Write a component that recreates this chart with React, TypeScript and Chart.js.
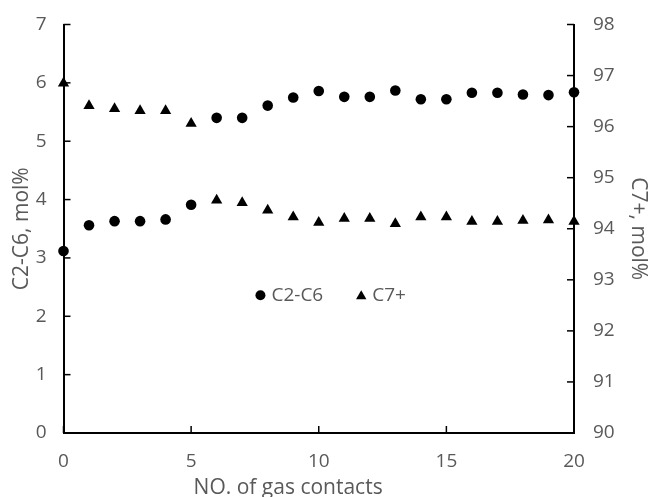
import React, { useEffect, useRef } from "react";
import { Chart, registerables } from "chart.js";

Chart.register(...registerables);

const contacts = [0, 1, 2, 3, 4, 5, 6, 7, 8, 9, 10, 11, 12, 13, 14, 15, 16, 17, 18, 19, 20];
const c2c6 = [3.12, 3.56, 3.63, 3.63, 3.66, 3.91, 5.4, 5.4, 5.61, 5.75, 5.86, 5.76, 5.76, 5.87, 5.72, 5.72, 5.83, 5.83, 5.8, 5.79, 5.84];
const c7plus = [96.85, 96.41, 96.35, 96.31, 96.31, 96.06, 94.56, 94.51, 94.36, 94.23, 94.12, 94.2, 94.2, 94.1, 94.23, 94.23, 94.14, 94.14, 94.16, 94.17, 94.14];
const seriesNames = ["C2-C6", "C7+"];
const xTitle = "NO. of gas contacts";
const yLeftTitle = "C2-C6, mol%";
const yRightTitle = "C7+, mol%";

const FONT = "'Open Sans', sans-serif";
const GREY = "#595959";

const innerTicks = {
  id: "innerTicks",
  beforeDatasetsDraw(chart: any) {
    const ctx = chart.ctx;
    const a = chart.chartArea;
    ctx.save();
    ctx.strokeStyle = "#000";
    ctx.lineWidth = 1.5;
    const len = 7;
    const sx = chart.scales.x;
    sx.ticks.forEach((_: any, i: number) => {
      const p = sx.getPixelForTick(i);
      ctx.beginPath();
      ctx.moveTo(p, a.bottom);
      ctx.lineTo(p, a.bottom - len);
      ctx.stroke();
    });
    const sy = chart.scales.y;
    sy.ticks.forEach((_: any, i: number) => {
      const p = sy.getPixelForTick(i);
      ctx.beginPath();
      ctx.moveTo(a.left, p);
      ctx.lineTo(a.left + len, p);
      ctx.stroke();
    });
    const sy1 = chart.scales.y1;
    sy1.ticks.forEach((_: any, i: number) => {
      const p = sy1.getPixelForTick(i);
      ctx.beginPath();
      ctx.moveTo(a.right, p);
      ctx.lineTo(a.right - len, p);
      ctx.stroke();
    });
    ctx.restore();
  },
};

const innerLegend = {
  id: "innerLegend",
  afterDraw(chart: any) {
    const ctx = chart.ctx;
    const a = chart.chartArea;
    const w = a.right - a.left;
    const h = a.bottom - a.top;
    let x = a.left + 0.376 * w;
    const y = a.top + 0.663 * h;
    ctx.save();
    ctx.font = "19px " + FONT;
    ctx.textBaseline = "middle";
    ctx.textAlign = "left";
    chart.data.datasets.forEach((ds: any) => {
      const style = ds.pointStyle;
      ctx.fillStyle = "#000";
      const r = style === "triangle" ? 6 : 5;
      ctx.beginPath();
      if (style === "triangle") {
        ctx.moveTo(x + 5, y - r + 1);
        ctx.lineTo(x + 5 + r * 0.866, y + r / 2 + 1);
        ctx.lineTo(x + 5 - r * 0.866, y + r / 2 + 1);
        ctx.closePath();
      } else {
        ctx.arc(x + 5, y, r, 0, Math.PI * 2);
      }
      ctx.fill();
      x += 16;
      ctx.fillStyle = GREY;
      ctx.fillText(ds.label, x, y);
      x += ctx.measureText(ds.label).width + 33;
    });
    ctx.restore();
  },
};

const bottomTitle = {
  id: "bottomTitle",
  afterDraw(chart: any) {
    const ctx = chart.ctx;
    const a = chart.chartArea;
    ctx.save();
    ctx.font = "21px " + FONT;
    ctx.fillStyle = GREY;
    ctx.textAlign = "center";
    ctx.textBaseline = "middle";
    ctx.fillText(xTitle, a.left + 0.44 * (a.right - a.left), chart.height - 9);
    ctx.restore();
  },
};

export default function App() {
  const ref = useRef<HTMLCanvasElement>(null);
  useEffect(() => {
    const canvas = ref.current;
    if (!canvas) return;
    const chart = new Chart(canvas, {
      type: "scatter",
      data: {
        datasets: [
          {
            label: seriesNames[0],
            data: contacts.map((x, i) => ({ x, y: c2c6[i] })),
            yAxisID: "y",
            pointStyle: "circle",
            pointRadius: 5.3,
            backgroundColor: "#000",
            borderColor: "#000",
            borderWidth: 0,
            clip: false,
          },
          {
            label: seriesNames[1],
            data: contacts.map((x, i) => ({ x, y: c7plus[i] })),
            yAxisID: "y1",
            pointStyle: "triangle",
            pointRadius: 6.5,
            backgroundColor: "#000",
            borderColor: "#000",
            borderWidth: 0,
            clip: false,
          },
        ],
      },
      options: {
        responsive: false,
        animation: false,
        layout: { padding: { top: 24.5, left: 0, right: 0, bottom: 0 } },
        plugins: {
          legend: { display: false },
          tooltip: { enabled: false },
        },
        scales: {
          x: {
            type: "linear",
            min: 0,
            max: 20,
            ticks: { stepSize: 5, color: GREY, font: { family: FONT, size: 19 }, padding: 17, maxRotation: 0 },
            grid: { drawOnChartArea: false, drawTicks: false },
            border: { display: true, color: "#000", width: 2 },
            afterFit: (s: any) => {
              s.height = 64;
              s.paddingLeft = 0;
              s.paddingRight = 0;
            },
          },
          y: {
            type: "linear",
            position: "left",
            min: 0,
            max: 7,
            ticks: { stepSize: 1, color: GREY, font: { family: FONT, size: 19 }, padding: 17 },
            grid: { drawOnChartArea: false, drawTicks: false },
            border: { display: true, color: "#000", width: 2 },
            title: { display: true, text: yLeftTitle, color: GREY, font: { family: FONT, size: 21 }, padding: { top: 9, bottom: 0 } },
            afterFit: (s: any) => {
              s.width = 63.5;
              s.paddingTop = 0;
              s.paddingBottom = 0;
            },
          },
          y1: {
            type: "linear",
            position: "right",
            min: 90,
            max: 98,
            ticks: { stepSize: 1, color: GREY, font: { family: FONT, size: 19 }, padding: 19 },
            grid: { drawOnChartArea: false, drawTicks: false },
            border: { display: true, color: "#000", width: 2 },
            title: { display: true, text: yRightTitle, color: GREY, font: { family: FONT, size: 21 }, padding: { top: 0, bottom: 0 } },
            afterFit: (s: any) => {
              s.width = 77;
              s.paddingTop = 0;
              s.paddingBottom = 0;
            },
          },
        },
      },
      plugins: [innerTicks, innerLegend, bottomTitle],
    });
    return () => chart.destroy();
  }, []);
  return (
    <div style={{ position: "fixed", left: 0, top: 0, width: 651, height: 497, background: "#fff" }}>
      <canvas ref={ref} width={651} height={497} style={{ display: "block" }} />
    </div>
  );
}
